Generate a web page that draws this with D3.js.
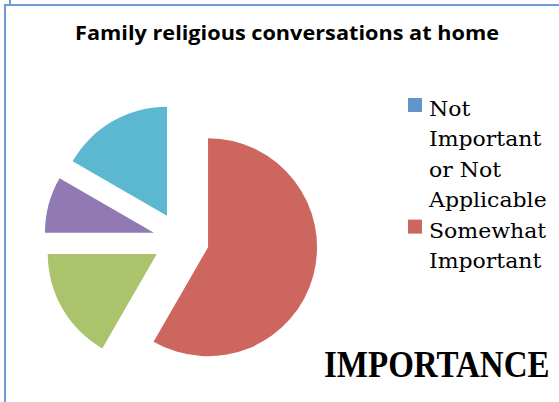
<!DOCTYPE html>
<html>
<head>
<meta charset="utf-8">
<script src="https://cdn.jsdelivr.net/npm/d3@7"></script>
<style>
  html, body { margin: 0; padding: 0; background: #ffffff; overflow: hidden; }
  svg { display: block; }
</style>
</head>
<body>
<svg id="chart" width="559" height="402"></svg>
<script>
// Share of answers for each importance level, in slice order
const sliceValues = [0, 7, 2, 1, 2];
const sliceColors = ["#6196cd", "#cd665f", "#abc46c", "#917ab3", "#5bb8d0"];
// Legend entries (first two series)
const legendLabels = ["Not Important or Not Applicable", "Somewhat Important"];
const legendColors = ["#6196cd", "#cd665f"];
const chartTitle = "Family religious conversations at home";
const axisTitle = "IMPORTANCE";

const svg = d3.select("#chart");

// Chart frame
const frameColor = "#6c9bd6";
svg.append("rect")
  .attr("x", 5).attr("y", 5)
  .attr("width", 600).attr("height", 450)
  .attr("fill", "none")
  .attr("stroke", frameColor)
  .attr("stroke-width", 2);
svg.append("line")
  .attr("x1", 10).attr("x2", 10)
  .attr("y1", 0).attr("y2", 5)
  .attr("stroke", frameColor)
  .attr("stroke-width", 2);

// Title
svg.append("text")
  .attr("x", 75).attr("y", 40)
  .attr("textLength", 424)
  .attr("lengthAdjust", "spacingAndGlyphs")
  .style("font-family", "'Open Sans', Lato, sans-serif")
  .style("font-weight", "bold")
  .style("font-size", "19.5px")
  .attr("fill", "#000")
  .text(chartTitle);

// Exploded pie
const cx = 181, cy = 240, radius = 109, explode = 28;
const pie = d3.pie().sort(null).startAngle(0).endAngle(2 * Math.PI);
const arc = d3.arc().innerRadius(0).outerRadius(radius);
const arcs = pie(sliceValues);

svg.append("g")
  .attr("transform", `translate(${cx},${cy})`)
  .selectAll("path")
  .data(arcs.filter(d => d.endAngle > d.startAngle))
  .join("path")
  .attr("d", arc)
  .attr("fill", d => sliceColors[d.index])
  .attr("transform", d => {
    const mid = (d.startAngle + d.endAngle) / 2;
    return `translate(${explode * Math.sin(mid)},${-explode * Math.cos(mid)})`;
  });

// Legend with wrapped labels (slightly widened serif face)
const legendX = 408, textX = 429, firstBaseline = 116, lineStep = 30.4, maxWidth = 126;
const legendFont = "'DejaVu Serif', serif";
const legendSize = 20, legendStretch = 1.1;
const legend = svg.append("g");
let lineIndex = 0;
legendLabels.forEach((label, i) => {
  const words = label.split(" ");
  const lines = [];
  let current = "";
  const probe = legend.append("text")
    .style("font-family", legendFont).style("font-size", legendSize + "px");
  words.forEach(w => {
    const trial = current ? current + " " + w : w;
    probe.text(trial);
    if (current && probe.node().getComputedTextLength() * legendStretch > maxWidth) {
      lines.push(current);
      current = w;
    } else {
      current = trial;
    }
  });
  lines.push(current);
  probe.remove();

  const baseY = firstBaseline + lineIndex * lineStep;
  legend.append("rect")
    .attr("x", legendX).attr("y", baseY - 18)
    .attr("width", 14).attr("height", 14)
    .attr("fill", legendColors[i]);
  lines.forEach((ln, j) => {
    legend.append("text")
      .attr("transform", `translate(${textX},${firstBaseline + (lineIndex + j) * lineStep}) scale(${legendStretch},1)`)
      .style("font-family", legendFont)
      .style("font-size", legendSize + "px")
      .attr("fill", "#000")
      .text(ln);
  });
  lineIndex += lines.length;
});

// Category axis title (taller bold serif caps)
svg.append("text")
  .attr("transform", "translate(324,377) scale(1,1.13)")
  .style("font-family", "'Liberation Serif', serif")
  .style("font-weight", "bold")
  .style("font-size", "33px")
  .attr("fill", "#000")
  .text(axisTitle);
</script>
</body>
</html>
